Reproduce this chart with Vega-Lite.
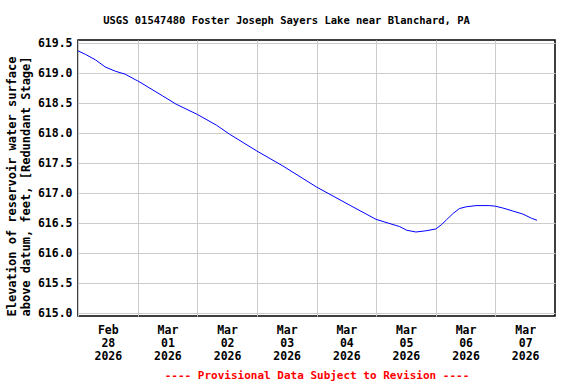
{
  "$schema": "https://vega.github.io/schema/vega-lite/v6.json",
  "autosize": {"type": "none"},
  "width": 477,
  "height": 276,
  "padding": {"left": 78, "top": 40, "right": 21, "bottom": 68},
  "background": "white",
  "title": {
    "text": "USGS 01547480 Foster Joseph Sayers Lake near Blanchard, PA",
    "font": "DejaVu Sans Mono",
    "fontSize": 10.5,
    "fontWeight": "bold",
    "color": "black",
    "anchor": "middle",
    "offset": 11,
    "dx": -30
  },
  "config": {
    "view": {"stroke": "black", "strokeWidth": 1.5},
    "axis": {
      "labelFont": "DejaVu Sans Mono",
      "labelFontWeight": "bold",
      "labelFontSize": 11.5,
      "labelColor": "black",
      "titleFont": "DejaVu Sans Mono",
      "titleFontWeight": "bold",
      "gridColor": "#cccccc",
      "gridWidth": 1,
      "gridOpacity": 1,
      "ticks": false,
      "domain": false
    }
  },
  "data": {
    "values": [
      {"time": "2026-02-28T00:00", "elev": 619.37},
      {"time": "2026-02-28T03:00", "elev": 619.31},
      {"time": "2026-02-28T07:00", "elev": 619.22},
      {"time": "2026-02-28T11:00", "elev": 619.10},
      {"time": "2026-02-28T15:00", "elev": 619.03},
      {"time": "2026-02-28T19:00", "elev": 618.98},
      {"time": "2026-02-28T23:00", "elev": 618.89},
      {"time": "2026-03-01T00:00", "elev": 618.87},
      {"time": "2026-03-01T10:00", "elev": 618.62},
      {"time": "2026-03-01T15:30", "elev": 618.48},
      {"time": "2026-03-02T00:00", "elev": 618.31},
      {"time": "2026-03-02T07:45", "elev": 618.13},
      {"time": "2026-03-02T13:00", "elev": 617.98},
      {"time": "2026-03-02T18:30", "elev": 617.84},
      {"time": "2026-03-03T00:00", "elev": 617.70},
      {"time": "2026-03-03T10:30", "elev": 617.45},
      {"time": "2026-03-04T00:00", "elev": 617.10},
      {"time": "2026-03-04T13:15", "elev": 616.80},
      {"time": "2026-03-05T00:00", "elev": 616.56},
      {"time": "2026-03-05T04:45", "elev": 616.50},
      {"time": "2026-03-05T09:30", "elev": 616.44},
      {"time": "2026-03-05T12:15", "elev": 616.38},
      {"time": "2026-03-05T16:00", "elev": 616.35},
      {"time": "2026-03-05T20:00", "elev": 616.37},
      {"time": "2026-03-06T00:00", "elev": 616.40},
      {"time": "2026-03-06T02:15", "elev": 616.47},
      {"time": "2026-03-06T04:15", "elev": 616.55},
      {"time": "2026-03-06T07:00", "elev": 616.66},
      {"time": "2026-03-06T09:30", "elev": 616.74},
      {"time": "2026-03-06T12:15", "elev": 616.77},
      {"time": "2026-03-06T16:15", "elev": 616.79},
      {"time": "2026-03-06T21:45", "elev": 616.79},
      {"time": "2026-03-07T00:00", "elev": 616.78},
      {"time": "2026-03-07T03:00", "elev": 616.75},
      {"time": "2026-03-07T07:00", "elev": 616.70},
      {"time": "2026-03-07T11:00", "elev": 616.65},
      {"time": "2026-03-07T14:30", "elev": 616.58},
      {"time": "2026-03-07T16:45", "elev": 616.545}
    ]
  },
  "mark": {"type": "line", "color": "#0000ff", "strokeWidth": 1, "clip": true},
  "encoding": {
    "x": {
      "field": "time",
      "type": "temporal",
      "scale": {
        "domain": [
          {"year": 2026, "month": 2, "date": 28},
          {"year": 2026, "month": 3, "date": 8}
        ],
        "nice": false
      },
      "axis": {
        "values": [
          {"year": 2026, "month": 2, "date": 28},
          {"year": 2026, "month": 3, "date": 1},
          {"year": 2026, "month": 3, "date": 2},
          {"year": 2026, "month": 3, "date": 3},
          {"year": 2026, "month": 3, "date": 4},
          {"year": 2026, "month": 3, "date": 5},
          {"year": 2026, "month": 3, "date": 6},
          {"year": 2026, "month": 3, "date": 7}
        ],
        "labelExpr": "[timeFormat(datum.value, '%b'), timeFormat(datum.value, '%d'), timeFormat(datum.value, '%Y')]",
        "labelOffset": 29.8,
        "labelPadding": 8,
        "labelLineHeight": 13,
        "labelOverlap": false,
        "labelBound": false,
        "labelFlush": false,
        "title": "---- Provisional Data Subject to Revision ----",
        "titleColor": "#ff0000",
        "titleFontSize": 11,
        "titleY": 59,
        "titleBaseline": "middle"
      }
    },
    "y": {
      "field": "elev",
      "type": "quantitative",
      "scale": {"domain": [614.95, 619.55], "nice": false, "zero": false},
      "axis": {
        "values": [615, 615.5, 616, 616.5, 617, 617.5, 618, 618.5, 619, 619.5],
        "format": ".1f",
        "labelPadding": 6,
        "title": ["Elevation of reservoir water surface", "above datum, feet, [Redundant Stage]"],
        "titleFontSize": 12,
        "titleLineHeight": 13.5,
        "titleColor": "black",
        "titleX": -59.5,
        "titleY": 146
      }
    }
  }
}
